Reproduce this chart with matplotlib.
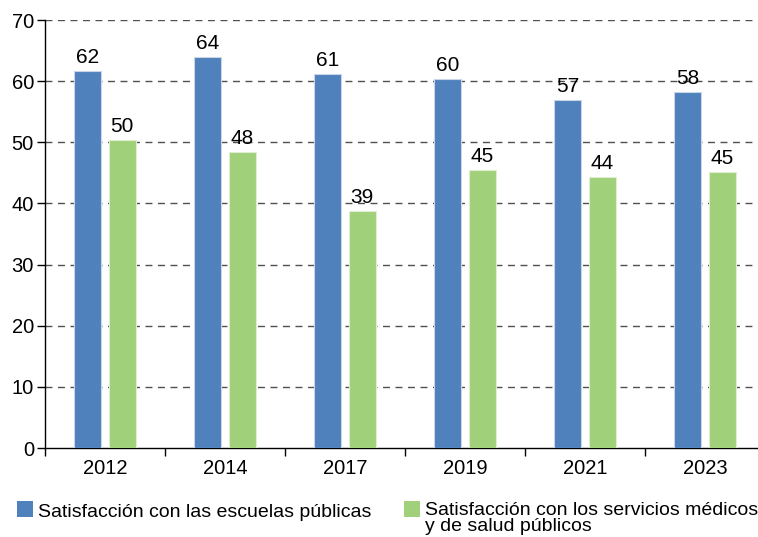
import matplotlib
matplotlib.use("Agg")
import matplotlib.pyplot as plt
from matplotlib.patches import Rectangle
import numpy as np

plt.rcParams['font.family'] = ['Liberation Sans', 'DejaVu Sans']

years = ["2012", "2014", "2017", "2019", "2021", "2023"]
escuelas = [61.6, 63.9, 61.1, 60.4, 56.9, 58.2]
salud = [50.4, 48.4, 38.7, 45.4, 44.3, 45.1]
serie_names = ["Satisfacción con las escuelas públicas",
               "Satisfacción con los servicios médicos\ny de salud públicos"]
yticks = [0, 10, 20, 30, 40, 50, 60, 70]

blue = "#4F81BD"
green = "#A0D07A"

W, H = 758, 537
fig = plt.figure(figsize=(W/100, H/100), dpi=100)
left, right, top, bottom = 45, 765, 20, 448
ax = fig.add_axes([left/W, (H-bottom)/H, (right-left)/W, (bottom-top)/H])

x = np.arange(len(years))
bw = 0.225
off = 0.142
b1 = ax.bar(x - off, escuelas, bw, color=blue, edgecolor="#C9D6EA", linewidth=0.8, zorder=3)
b2 = ax.bar(x + off, salud, bw, color=green, edgecolor="#DDEFD0", linewidth=0.8, zorder=3)

for bars, vals in ((b1, escuelas), (b2, salud)):
    for r, v in zip(bars, vals):
        ax.annotate(f"{round(v)}", (r.get_x() + r.get_width()/2, v),
                    xytext=(0, 3), textcoords="offset points",
                    ha="center", va="bottom", fontsize=15, color="black")

ax.set_xlim(-0.5, len(years) - 0.5)
ax.set_ylim(0, 70)
ax.set_yticks(yticks)
ax.set_yticklabels([str(t) for t in yticks], fontsize=14.5)
ax.set_xticks(x)
ax.set_xticklabels(years, fontsize=14.5)
ax.set_xticks(np.arange(len(years) + 1) - 0.5, minor=True)
ax.tick_params(axis="x", which="major", length=0, pad=8)
ax.tick_params(axis="x", which="minor", length=6, width=1, direction="out", color="black")
ax.tick_params(axis="y", length=6, width=1, direction="out", color="black", pad=2)

for t in yticks[1:]:
    ax.axhline(t, color="#505050", linestyle=(0, (5, 4)), linewidth=1, zorder=1)

for s in ("top", "right"):
    ax.spines[s].set_visible(False)
for s in ("left", "bottom"):
    ax.spines[s].set_color("black")
    ax.spines[s].set_linewidth(1)

# legend
fig.patches.append(Rectangle((17/W, 1 - 517/H), 16/W, 16/H, transform=fig.transFigure,
                             facecolor=blue, edgecolor="none"))
fig.text(38/W, 1 - 517/H, serie_names[0], fontsize=14, va="baseline", ha="left")
fig.patches.append(Rectangle((404/W, 1 - 517/H), 16/W, 16/H, transform=fig.transFigure,
                             facecolor=green, edgecolor="none"))
fig.text(425/W, 1 - 502/H, serie_names[1], fontsize=14, va="top", ha="left",
         linespacing=0.95)

fig.savefig("out.png", dpi=100)
